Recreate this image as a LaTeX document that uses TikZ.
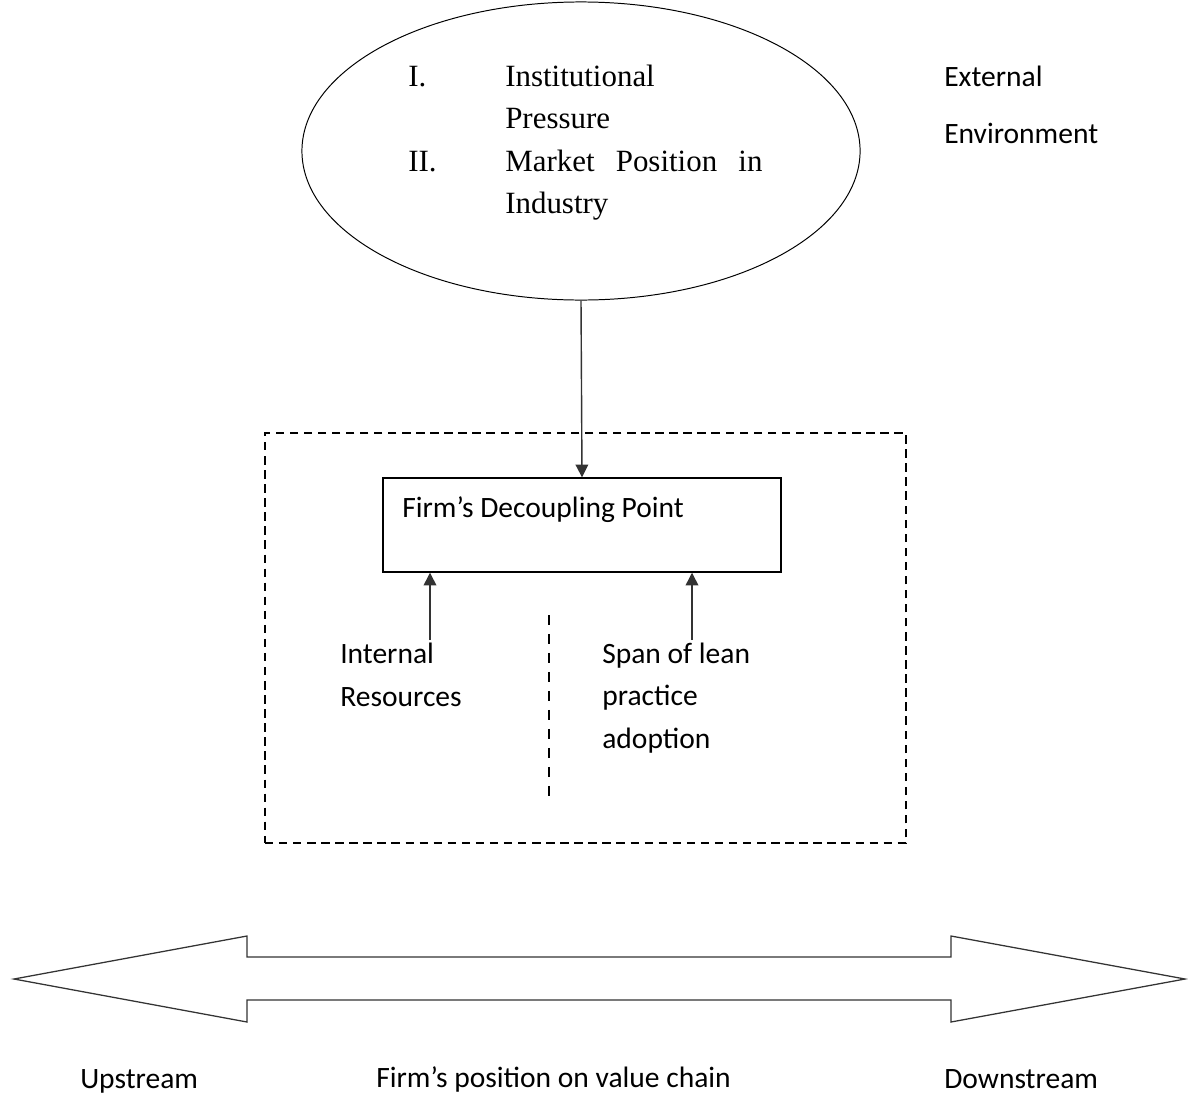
\documentclass[tikz,border=0pt]{standalone}
\usepackage{fontspec}
\setmainfont{Liberation Serif}
\newfontfamily\labelfont{Carlito}
\usetikzlibrary{shapes.geometric, arrows.meta, positioning}

\begin{document}
\begin{tikzpicture}[
  x=0.025cm, y=-0.025cm,
  ellfont/.style={font=\fontsize{22}{30}\selectfont},
  lbl/.style={font=\labelfont\fontsize{21}{30}\selectfont, anchor=base west, inner sep=0pt, align=left},
  ltxt/.style={ellfont, anchor=base west, inner sep=0pt},
  arrow/.style={-{Triangle[length=9pt, width=9pt]}, line width=1pt, color=black!80},
  dashbox/.style={draw, line width=1pt, dash pattern=on 6pt off 4pt, minimum width=16.025cm, minimum height=10.25cm, inner sep=0pt},
  pointbox/.style={draw, line width=1pt, minimum width=9.95cm, minimum height=2.35cm, inner sep=0pt},
  chain/.style={draw=black!80, line width=0.9pt, line join=miter}
]
  \useasboundingbox (0,0) rectangle (1188,1098);

  % External Environment
  \node[ellipse, draw, line width=0.7pt, minimum width=13.95cm, minimum height=7.45cm, inner sep=0pt] (env) at (581,151) {};
  \node[ltxt] (n1) at (408,86) {I.};
  \node[ltxt] (t1) at (505,86) {Institutional};
  \node[ltxt] (t1b) at (505,128) {Pressure};
  \node[ltxt] (n2) at (408,171) {II.};
  \node[ltxt] (t2) at (505,171) {\makebox[6.43cm][s]{Market Position in}};
  \node[ltxt] (t2b) at (505,213) {Industry};
  % multi-line labels sit on the baseline of their last line
  \node[lbl, font=\labelfont\fontsize{21}{40}\selectfont] (ext) at (944,143) {External\\Environment};

  % Firm
  \node[dashbox] (firm) at (585.5,638) {};
  \node[pointbox] (dp) at (582,525) {};
  \node[lbl] (dptxt) at (402,517) {Firm’s Decoupling Point};
  \node[lbl] (ir) at (340,706) {Internal\\Resources};
  \node[lbl] (span) at (602,748) {Span of lean\\practice\\adoption};
  \coordinate (irtop) at (430,640);
  \coordinate (spantop) at (692,640);
  \draw[line width=1.1pt, dash pattern=on 7pt off 6.5pt] (549,615) -- (549,802);

  % Value chain
  \draw[chain] (14,979) -- (247,936) -- (247,957) -- (951,957) -- (951,936) -- (1185,979)
    -- (951,1022) -- (951,1000) -- (247,1000) -- (247,1022) -- cycle;
  \node[lbl] (up) at (80,1088) {Upstream};
  \node[lbl] (pos) at (376,1087) {Firm’s position on value chain};
  \node[lbl] (down) at (944,1088) {Downstream};

  % Arrows
  \draw[arrow] (env.south) -- (dp.north);
  \draw[arrow] (irtop) -- (irtop |- dp.south);
  \draw[arrow] (spantop) -- (spantop |- dp.south);
\end{tikzpicture}
\end{document}
